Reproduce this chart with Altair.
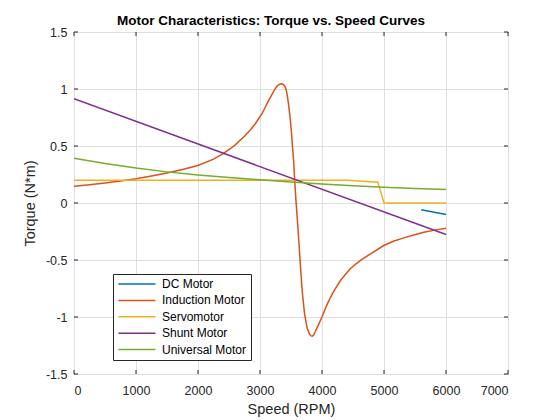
import altair as alt
import pandas as pd

# ---- data ----
dc_speed = [5600, 6000]
dc_torque = [-0.06, -0.10]

ind_speed = [0, 250, 500, 750, 1000, 1250, 1500, 1750, 2000, 2250, 2400, 2520, 2600,
             2750, 2850, 2924, 3032, 3140, 3200, 3248, 3280, 3320, 3345, 3365, 3395,
             3410, 3430, 3445, 3463, 3485, 3507, 3520, 3540, 3561, 3582, 3598, 3626,
             3653, 3680, 3718, 3761, 3800, 3826, 3845, 3865, 3895, 3920, 3950, 4003,
             4070, 4137, 4200, 4298, 4380, 4460, 4540, 4621, 4700, 4800, 4997, 5150,
             5319, 5480, 5642, 5820, 6000]
ind_torque = [0.148, 0.160, 0.175, 0.192, 0.212, 0.236, 0.263, 0.293, 0.329, 0.385,
              0.43, 0.476, 0.51, 0.585, 0.645, 0.695, 0.783, 0.90, 0.96, 1.005, 1.028,
              1.043, 1.046, 1.044, 1.03, 1.015, 0.975, 0.925, 0.857, 0.75, 0.622, 0.52,
              0.389, 0.184, 0.007, -0.11, -0.33, -0.56, -0.77, -0.97, -1.10, -1.152,
              -1.166, -1.168, -1.158, -1.125, -1.095, -1.06, -0.996, -0.905, -0.827,
              -0.765, -0.68, -0.625, -0.575, -0.538, -0.504, -0.474, -0.44, -0.373,
              -0.336, -0.306, -0.28, -0.256, -0.238, -0.221]

servo_speed = [0, 4400, 4900, 5000, 6000]
servo_torque = [0.2, 0.2, 0.183, 0.0, 0.0]

shunt_speed = [0, 6000]
shunt_torque = [0.915, -0.277]

univ_speed = [0, 500, 1000, 1500, 2000, 2500, 3000, 3500, 4000, 4500, 5000, 5500, 6000]
univ_torque = [0.393, 0.347, 0.306, 0.273, 0.245, 0.223, 0.204, 0.185, 0.167, 0.152,
               0.139, 0.128, 0.119]

series_names = ["DC Motor", "Induction Motor", "Servomotor", "Shunt Motor", "Universal Motor"]
series_colors = ["#0072BD", "#D95319", "#EDB120", "#7E2F8E", "#77AC30"]

x_ticks = [0, 1000, 2000, 3000, 4000, 5000, 6000, 7000]
y_ticks = [-1.5, -1, -0.5, 0, 0.5, 1, 1.5]

rows = []
for name, xs, ys in [
    ("DC Motor", dc_speed, dc_torque),
    ("Induction Motor", ind_speed, ind_torque),
    ("Servomotor", servo_speed, servo_torque),
    ("Shunt Motor", shunt_speed, shunt_torque),
    ("Universal Motor", univ_speed, univ_torque),
]:
    for xv, yv in zip(xs, ys):
        rows.append({"series": name, "speed": xv, "torque": yv})
df = pd.DataFrame(rows)

W, H = 434, 342
FONT = "Liberation Sans"
AX = "#262626"

xscale = alt.Scale(domain=[0, 7000], nice=False, zero=False)
yscale = alt.Scale(domain=[-1.5, 1.5], nice=False, zero=False)

lines = alt.Chart(df).mark_line(strokeWidth=1.5, clip=True).encode(
    x=alt.X("speed:Q", scale=xscale, title="Speed (RPM)",
            axis=alt.Axis(values=x_ticks, format="d", grid=True)),
    y=alt.Y("torque:Q", scale=yscale, title="Torque (N*m)",
            axis=alt.Axis(values=y_ticks, labelExpr="'' + datum.value", grid=True)),
    color=alt.Color("series:N",
                    scale=alt.Scale(domain=series_names, range=series_colors),
                    legend=alt.Legend(title=None, orient="none", legendX=39, legendY=242,
                                      symbolType="M-1,0H7", symbolSize=86,
                                      symbolStrokeWidth=1.5, labelFontSize=12,
                                      labelFont=FONT, labelColor="black",
                                      strokeColor=AX, fillColor="white", padding=4,
                                      rowPadding=4.4, labelOffset=33)),
    detail="series:N",
)

xt = pd.DataFrame({"v": x_ticks})
yt = pd.DataFrame({"v": y_ticks})
tl = 4
xtick_b = alt.Chart(xt).mark_rule(color=AX, strokeWidth=1).encode(
    x=alt.X("v:Q", scale=xscale), y=alt.value(H), y2=alt.value(H - tl))
xtick_t = alt.Chart(xt).mark_rule(color=AX, strokeWidth=1).encode(
    x=alt.X("v:Q", scale=xscale), y=alt.value(0), y2=alt.value(tl))
ytick_l = alt.Chart(yt).mark_rule(color=AX, strokeWidth=1).encode(
    y=alt.Y("v:Q", scale=yscale), x=alt.value(0), x2=alt.value(tl))
ytick_r = alt.Chart(yt).mark_rule(color=AX, strokeWidth=1).encode(
    y=alt.Y("v:Q", scale=yscale), x=alt.value(W), x2=alt.value(W - tl))

chart = alt.layer(lines, xtick_b, xtick_t, ytick_l, ytick_r).properties(
    width=W, height=H,
    title=alt.TitleParams("Motor Characteristics: Torque vs. Speed Curves",
                          fontSize=13.5, fontWeight="bold", font=FONT, color="black",
                          dx=-20, offset=-1),
    autosize=alt.AutoSizeParams(type="none"),
    padding={"left": 66, "top": 24, "right": 10, "bottom": 44},
).configure_view(
    stroke=AX, strokeWidth=1
).configure_axis(
    domain=False, ticks=False, gridColor="#dfdfdf", gridWidth=1,
    labelFont=FONT, labelFontSize=12.5, labelColor=AX,
    titleFont=FONT, titleFontSize=14.5, titleFontWeight="normal", titleColor=AX,
).configure_axisX(
    labelPadding=10, titlePadding=6
).configure_axisY(
    labelPadding=7, titlePadding=8
)

chart.save("out.html", embed_options={"renderer": "svg", "actions": False})
